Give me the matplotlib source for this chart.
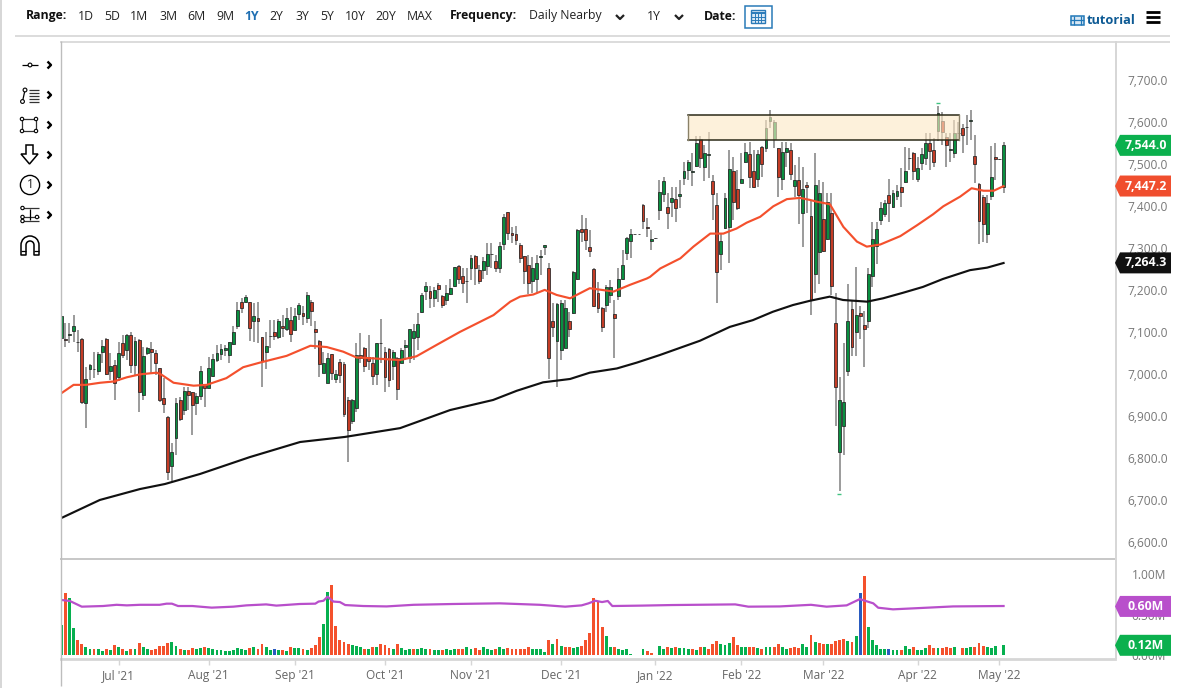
import matplotlib
matplotlib.use("Agg")
import matplotlib.pyplot as plt
import numpy as np
from matplotlib.patches import Arc, Circle, Polygon, Rectangle

plt.rcParams['font.family'] = ['Open Sans', 'DejaVu Sans']

# daily candles
opens = [7085,7083,7092,7101,7076,7083,6930,7011,7011,7006,
         7052,7083,7006,7022,6992,7073,7056,7093,7022,7081,
         6950,7049,7059,7049,7013,6942,6898,6781,6848,6938,
         6913,6960,6956,6930,6948,6975,6966,6994,7033,7048,
         7056,7044,7071,7113,7170,7172,7172,7127,7133,7087,
         7052,7090,7100,7087,7114,7106,7129,7105,7142,7146,
         7133,7172,7107,7079,7003,6979,7047,6987,7028,7023,
         6938,6887,6918,7045,
         7061,7041,7027,7001,7073,7053,7059,7019,7037,7027,
         7063,7039,7086,7088,7148,7198,7198,7180,7212,7186,
         7177,7190,7209,7258,7233,7221,7251,7281,7247,7247,
         7257,7285,7269,7251,7309,7385,7335,7332,7308,7281,
         7259,7221,7225,7278,7302,7253,7127,7078,7057,7061,
         7127,7146,7225,7345,7345,7301,7250,7192,7158,7165,
         7189,7142,7186,7227,7287,7317,7333,7333,7402,7349,7316,7323,
         7390,7428,7398,7410,7417,7423,7467,7485,7481,7496,
         7558,7492,7522,7458,7403,7285,7348,7349,7482,7441,
         7454,7505,7523,7484,7463,7541,7537,7602,7558,7537,
         7465,7529,7533,7447,7461,7382,7450,7375,7239,7291,
         7368,7320,7384,7121,6813,6875,7006,7154,7099,7145,
         7117,7125,7233,7305,7366,7380,7427,7398,7424,7446,
         7456,7513,7527,7464,7501,7515,7550,7534,7577,7601,
         7563,7534,7525,7573,7585,7587,7603,7519,7451,7421,
         7332,7424,7517,7511,7444]
highs = [7153,7121,7121,7141,7105,7085,7016,7024,7053,7053,
         7081,7085,7049,7033,7077,7093,7095,7099,7089,7083,
         7065,7065,7077,7056,7014,6990,6900,6835,6942,6946,
         6968,6970,6958,6954,7019,6976,7040,7048,7069,7072,
         7069,7077,7113,7170,7180,7188,7172,7168,7170,7089,
         7099,7129,7129,7130,7141,7157,7160,7157,7168,7162,
         7194,7176,7127,7081,7053,7049,7048,7010,7035,7029,
         6945,6940,7073,7097,
         7065,7092,7041,7073,7130,7065,7061,7057,7041,7061,
         7080,7108,7120,7144,7192,7219,7209,7208,7216,7188,
         7212,7225,7255,7259,7251,7251,7283,7283,7259,7279,
         7311,7311,7283,7315,7381,7386,7349,7352,7311,7281,
         7283,7279,7283,7295,7307,7265,7168,7168,7177,7176,
         7148,7245,7344,7378,7370,7343,7251,7219,7160,7212,
         7223,7177,7251,7295,7325,7344,7334,7334,7404,7370,7343,7324,
         7461,7468,7430,7446,7444,7461,7505,7509,7525,7566,
         7566,7545,7575,7473,7430,7334,7430,7534,7517,7485,
         7525,7550,7553,7534,7533,7542,7604,7628,7604,7538,
         7553,7553,7550,7497,7517,7493,7457,7414,7527,7461,
         7457,7430,7430,7192,6992,7073,7214,7175,7255,7162,
         7149,7251,7362,7362,7410,7414,7465,7438,7450,7489,
         7539,7537,7529,7517,7537,7573,7573,7561,7638,7624,
         7573,7573,7604,7600,7596,7616,7628,7569,7454,7426,
         7426,7542,7549,7512,7553]
lows = [7077,7063,7073,7077,7051,6929,6871,6986,6990,6998,
        7025,6998,6986,6938,6982,7037,7033,7002,6998,6910,
        6937,7045,7002,6998,6934,6906,6748,6745,6807,6887,
        6902,6914,6855,6902,6938,6922,6966,6992,7029,7033,
        7043,7025,7069,7106,7146,7168,7079,7077,7073,6970,
        7011,7061,7081,7083,7089,7101,7077,7105,7129,7117,
        7121,7113,7059,6992,7002,6978,6986,6978,6978,6898,
        6790,6881,6910,7025,
        7005,7009,6973,6973,7025,6957,6969,6985,6938,7025,
        7033,7027,7033,7057,7144,7176,7156,7160,7172,7156,
        7164,7188,7206,7215,7193,7168,7223,7212,7215,7225,
        7235,7251,7243,7241,7296,7319,7311,7307,7263,7215,
        7190,7192,7192,7235,7283,6989,7088,6968,7033,7061,
        7088,7142,7223,7315,7296,7279,7160,7144,7100,7148,
        7168,7037,7176,7223,7271,7275,7332,7332,7344,7327,7295,7322,
        7366,7410,7344,7374,7362,7396,7450,7461,7447,7493,
        7489,7459,7467,7366,7168,7247,7346,7263,7366,7390,
        7454,7501,7442,7442,7446,7469,7529,7585,7537,7422,
        7438,7493,7461,7422,7358,7303,7382,7140,7192,7215,
        7291,7318,7188,6875,6722,6806,6995,7043,7043,7083,
        7016,7109,7206,7261,7354,7374,7362,7396,7414,7398,
        7454,7485,7461,7457,7485,7497,7485,7493,7555,7545,
        7493,7505,7513,7557,7527,7545,7557,7454,7309,7315,
        7312,7414,7461,7510,7431]
closes = [7137,7080,7094,7113,7075,6932,6989,7022,7011,7048,
          7067,7000,7018,6979,7049,7045,7093,7022,7079,6958,
          7043,7061,7051,7027,6937,6929,6767,6813,6930,6892,
          6960,6950,6925,6948,7006,6966,7014,7035,7049,7059,
          7062,7076,7099,7151,7158,7183,7110,7137,7127,7030,
          7067,7090,7091,7125,7109,7133,7095,7137,7164,7137,
          7188,7149,7099,7023,7025,7037,7002,7000,6998,6905,
          6867,6937,7045,7037,
          7019,7031,6996,7073,7074,6993,6985,7051,6963,7057,
          7070,7106,7103,7118,7189,7209,7180,7200,7201,7165,
          7192,7204,7254,7227,7217,7221,7275,7253,7222,7269,
          7285,7286,7253,7304,7373,7335,7330,7319,7277,7246,
          7217,7253,7263,7281,7306,7038,7112,7166,7168,7158,
          7108,7242,7343,7337,7319,7293,7162,7158,7111,7206,
          7208,7132,7225,7260,7323,7333,7333,7333,7365,7348,7321,7323,
          7434,7459,7384,7418,7394,7428,7483,7505,7481,7549,
          7513,7525,7522,7428,7243,7317,7418,7487,7410,7394,
          7465,7529,7468,7446,7523,7499,7585,7612,7599,7469,
          7529,7538,7475,7461,7427,7439,7446,7176,7450,7431,
          7293,7410,7209,6970,6938,6932,7127,7065,7141,7139,
          7106,7239,7320,7346,7394,7407,7406,7430,7436,7432,
          7484,7513,7484,7491,7523,7549,7530,7504,7620,7575,
          7545,7534,7573,7573,7569,7587,7603,7500,7365,7357,
          7406,7469,7511,7511,7544]

# red moving average
ma_red_day = [0,3,6,9.5,12.8,16,19.2,23.3,24.5,27.4,32.3,35.5,40.3,44.4,48.5,55,60.8,64.8,68.8,72.1,
              72.9,81,82.7,86.7,91.6,97.3,101.4,105.5,109.6,112,115.2,118,120.9,124.2,129,134.8,138.8,142.9,
              143.7,146.2,151.1,154.3,158.4,161.6,164.8,167.3,170.6,173.8,177.1,180.3,182.8,184.4,187.6,190.9,
              194.2,196.6,199.9,204.8,208.9,212.8,215.3,219.4,222.2,225.1,227.6,230]
ma_red = [6954,6974,6974,6979,6982,6992,6999,7003,6998,6979,6972,6974,6990,7016,7027,7043,7067,7064,7053,7039,
          7039,7034,7033,7042,7069,7100,7120,7140,7172,7184,7189,7200,7188,7180,7204,7196,7212,7227,
          7231,7251,7275,7303,7334,7334,7346,7360,7374,7399,7416,7419,7414,7410,7404,7350,
          7315,7303,7308,7328,7354,7380,7399,7422,7442,7436,7436,7447]

# black moving average
ma_black_day = [0,9.4,19.2,25.3,33.9,46,58.3,69.2,82.7,94.9,105.4,111.2,117.6,124.2,129,135.6,140.5,146.1,
                155.9,163.2,168.8,173.7,178.6,182.7,187.6,190.8,196.7,200.6,205.4,210.3,215.2,221.8,226,230]
ma_black = [6657,6700,6726,6738,6762,6802,6838,6850,6871,6914,6938,6960,6980,6988,7003,7013,7027,7045,
            7079,7112,7128,7148,7164,7174,7184,7176,7172,7180,7193,7207,7226,7247,7253,7264]

# volume in millions, g/r/b bar colours
volumes = [.37,.76,.70,.33,.19,.14,.095,.07,.08,.08,.055,.07,.06,.12,.10,.07,.045,.08,.08,.145,
           .095,.07,.06,.075,.11,.115,.15,.16,.11,.08,.065,.065,.09,.07,.085,.10,.085,.08,.06,.065,
           .055,.055,.06,.085,.075,.06,.09,.095,.07,.13,.095,.065,.07,.06,.06,.055,.105,.09,.085,
           .07,.06,.085,.12,.22,.38,.78,.86,.36,.18,.165,.14,.12,.11,.10,.08,.08,.105,.10,.13,
           .125,.09,.08,.13,.085,.065,.07,.08,.075,.085,.08,.08,.065,.06,.06,.08,.06,.08,.075,.08,
           .095,.08,.085,.06,.095,.08,.06,.075,.095,.08,.085,.07,.08,.08,.08,.10,.075,.08,
           .08,.04,.18,.13,.20,.115,.105,.095,.085,.10,.11,.185,.275,.70,.65,.35,.235,.105,.095,.07,
           .06,.07,.01,0,0,.075,.05,.02,0,.11,.08,.105,.085,.095,.085,.085,.08,.08,.06,.10,
           .105,.08,.14,.17,.135,.12,.15,.22,.12,.105,.10,.10,.105,.085,.08,.095,.095,.10,.14,
           .10,.075,.09,.095,.085,.13,.10,.245,.16,.15,.135,.14,.13,.17,.185,.20,.17,.155,.23,.77,
           .975,.34,.18,.12,.08,.07,.08,.065,.06,.065,.11,.08,.105,.065,.06,.085,.12,.085,.085,.09,
           .095,.09,.095,0,.09,.09,.095,.105,.15,.11,.105,.085,.115,0,.12]
vol_codes = ("grggr rggrg grgrg rgrgr ggrrr rrggr grrgg rgggg ggggg grgrr ggbgr grgg"
             "rgrrr ggrrr rrggg rgrgr rrgrg ggrgg grggr gggrr ggrrg ggrgg rrrrr rgg"
             "ggrgr grrgg rrrrr rggrg ggggg grrgg grgrg ggrgr grrrg ggrrg grrgr ggrr"
             "ggrrr ggrgr rgrrr rgrgb rgggg gbggr ggrgg grrgr rrggr ggrrr ggggg").replace(" ", "")

# purple volume average
vol_avg_day = [0,2.1,5,10.2,13.5,16,19.2,24,25.7,27,28.5,32,36.7,42,45.2,50,52.5,58.2,
               62,62.8,64,65,66.4,68,69.3,73.7,79.4,86,95.7,107,116.8,
               123,127,128.7,130.3,132,133.4,134.5,141.7,149,164.5,167.7,175.4,
               183,186.8,191.7,194.9,198.2,199.4,203,211.2,217.7,230]
vol_avg = [.68,.667,.597,.605,.62,.613,.62,.62,.634,.634,.605,.605,.585,.597,.613,.625,.61,.63,
           .634,.66,.67,.72,.66,.654,.617,.605,.60,.62,.63,.638,.62,
           .597,.613,.638,.67,.654,.667,.605,.61,.617,.625,.597,.60,
           .62,.597,.613,.69,.638,.584,.564,.584,.60,.605]

price_ticks = [6600,6700,6800,6900,7000,7100,7200,7300,7400,7500,7600,7700]
vol_ticks = [0,0.5,1.0]
vol_tick_labels = ["0.00M","0.50M","1.00M"]
month_days = [14,36,57,79,100,122,145,166,186,209,229]
month_labels = ["Jul '21","Aug '21","Sep '21","Oct '21","Nov '21","Dec '21","Jan '22","Feb '22","Mar '22","Apr '22","May '22"]
# resistance box: first day, last day, bottom, top
zone = [153,219.1,7557,7617]
# little green flags at the extremes
flag_days = [189.8,214]
flag_prices = [6714,7645]
last_close = 7544.0
last_red = 7447.2
last_black = 7264.3
last_vol_avg = 0.60
last_vol = 0.12

W, H = 1182, 688
GREEN = "#0a8f40"
RED = "#c43c26"
GREY = "#d6d6d6"
TEXT = "#777777"

opens, highs, lows, closes = map(np.array, (opens, highs, lows, closes))
days = np.arange(len(closes))

fig = plt.figure(figsize=(W/100, H/100), dpi=100)

def make_axes(top, bottom):
    return fig.add_axes([61/W, 1-bottom/H, (1115-61)/W, (bottom-top)/H])

# price pane
ax = make_axes(42, 558)
ax.set_xlim(-0.07, 257.2)
ax.set_ylim(6561.9, 7790)
up = closes >= opens
ax.vlines(days, lows, highs, color="#858585", lw=1.15, zorder=2)
body_low = np.minimum(opens, closes)
body_h = np.maximum(np.abs(closes-opens), 0.8)
ax.bar(days[up], body_h[up], bottom=body_low[up], width=0.7, color=GREEN, edgecolor="#222222", lw=0.55, zorder=3)
ax.bar(days[~up], body_h[~up], bottom=body_low[~up], width=0.7, color=RED, edgecolor="#222222", lw=0.55, zorder=3)
ax.plot(ma_red_day, ma_red, color="#f4502d", lw=1.55, zorder=4, solid_joinstyle="round")
ax.plot(ma_black_day, ma_black, color="#111111", lw=1.55, zorder=4, solid_joinstyle="round")
ax.plot(flag_days, flag_prices, ls="none", marker="_", ms=3.5, mew=1, color="#3fc380", zorder=4)
ax.add_patch(Rectangle((zone[0], zone[2]), zone[1]-zone[0], zone[3]-zone[2], facecolor="#fde9c6", alpha=0.62, zorder=5))
# box outline: dark top and bottom, softer sides
ax.plot([zone[0], zone[1]], [zone[3], zone[3]], color="#2b2a18", lw=1.1, zorder=6)
ax.plot([zone[0], zone[1]], [zone[2], zone[2]], color="#2b2a18", lw=1.1, zorder=6)
ax.plot([zone[0], zone[0]], [zone[2], zone[3]], color="#8a8168", lw=1.0, zorder=6)
ax.plot([zone[1], zone[1]], [zone[2], zone[3]], color="#8a8168", lw=1.0, zorder=6)
ax.set_yticks(price_ticks)
ax.set_yticklabels([f"{p:,.1f}" for p in price_ticks])
ax.yaxis.tick_right()
ax.tick_params(axis="y", length=0, pad=9, labelsize=8.6, labelcolor=TEXT)
ax.set_xticks([])
for s in ax.spines.values():
    s.set_visible(False)

# volume pane
vax = make_axes(560, 659)
vax.set_xlim(-0.07, 257.2)
vax.set_ylim(-0.049, 1.173)
code_colors = {"g": "#06b04f", "r": "#f4512c", "b": "#2a5bc0"}
vax.bar(days, volumes, width=0.7, color=[code_colors[c] for c in vol_codes], lw=0, zorder=2)
vax.plot(vol_avg_day, vol_avg, color="#b84fcb", lw=1.6, zorder=3)
vax.set_yticks(vol_ticks)
vax.set_yticklabels(vol_tick_labels)
vax.yaxis.tick_right()
vax.tick_params(axis="y", length=0, pad=12, labelsize=8.6, labelcolor=TEXT)
vax.set_xticks(month_days)
vax.set_xticklabels(month_labels)
vax.tick_params(axis="x", length=4, width=1, color=GREY, pad=3.5, labelsize=8.6, labelcolor="#666666")
for name, s in vax.spines.items():
    s.set_visible(name == "bottom")
vax.spines["bottom"].set_color(GREY)
vax.spines["bottom"].set_linewidth(2)

# overlay in pixel coordinates for the toolbar, frame and value tags
ui = fig.add_axes([0, 0, 1, 1], zorder=10)
ui.set_xlim(0, W)
ui.set_ylim(H, 0)
ui.axis("off")

def line(xs, ys, color="black", lw=1.0):
    ui.plot(xs, ys, color=color, lw=lw, solid_capstyle="butt")

line([1, 1], [0, H], "#cfcfcf", 1.2)
line([15, 1170], [35.5, 35.5], GREY, 1.2)
line([60, 1170], [41.5, 41.5], GREY, 1.2)
line([60.5, 60.5], [41, 686], "#bdbdbd", 1)
line([1115.5, 1115.5], [41, 659], GREY, 1.4)
line([60, 1115], [558.5, 558.5], "#bdbdbd", 1.2)

def label(x, s, **kw):
    kw.setdefault("color", "#222222")
    ui.text(x, 16, s, fontsize=8.8, va="center", **kw)

label(26, "Range:", fontweight="bold", color="#111111")
range_names = ["1D","5D","1M","3M","6M","9M","1Y","2Y","3Y","5Y","10Y","20Y","MAX"]
range_x = [86,112,139,168,196,225,252,276,302,327,355,386,420]
for x, s in zip(range_x, range_names):
    if s == "1Y":
        label(x, s, ha="center", color="#1f6fb2", fontweight="bold")
    else:
        label(x, s, ha="center")
label(450, "Frequency:", fontweight="bold", color="#111111")
label(529, "Daily Nearby")
label(647, "1Y")
label(704, "Date:", fontweight="bold", color="#111111")
for cx in (620, 679):
    line([cx-4, cx, cx+4], [15, 19, 15], "#222222", 1.6)

# calendar button
ui.add_patch(Rectangle((744.5, 5.5), 27, 22, fill=False, edgecolor="#2a7ab8", lw=1.1))
ui.add_patch(Rectangle((751, 10), 14, 13, facecolor="#d9e8f4", edgecolor="#2a7ab8", lw=1))
line([751, 765], [13, 13], "#2a7ab8", 1.4)
for cx in (755, 758, 761):
    line([cx, cx], [13, 23], "#2a7ab8", 0.7)
for cy in (16.5, 19.5):
    line([751, 765], [cy, cy], "#2a7ab8", 0.7)

# tutorial link and menu
ui.add_patch(Rectangle((1070.5, 15.5), 13, 9.5, facecolor="#d9e8f4", edgecolor="#2178b8", lw=1.1))
for cx in (1073.5, 1080.5):
    line([cx, cx], [15.5, 25], "#2178b8", 0.9)
line([1070, 1084], [20.2, 20.2], "#2178b8", 0.9)
ui.text(1087, 20, "tutorial", fontsize=9.2, fontweight="bold", color="#0d5a94", va="center")
for cy in (11.5, 16.5, 21.5):
    line([1146, 1160], [cy, cy], "black", 2)

# drawing tools on the left
for cy in (65, 95, 125, 155, 185, 215):
    line([47.5, 51, 47.5], [cy-3.5, cy, cy+3.5], "black", 1.7)

def dot(x, y, r=1.9):
    ui.add_patch(Circle((x, y), r, facecolor="white", edgecolor="black", lw=0.8, zorder=4))

line([22, 38], [65, 65], "black", 0.9)
dot(30, 65)
line([22.5, 25], [101.5, 90], "black", 0.9)
dot(22.5, 101.5)
dot(25, 90)
for cy in (90, 93, 96, 99, 102):
    line([29, 39], [cy, cy], "#333333", 0.9)
ui.add_patch(Rectangle((22, 119), 14, 12, fill=False, edgecolor="#333333", lw=0.9))
for x, y in ((22, 119), (36, 119), (22, 131), (36, 131)):
    dot(x, y, 1.7)
ui.add_patch(Polygon([(26, 145), (33, 145), (33, 154), (38, 154), (29.5, 164), (21, 154), (26, 154)],
                     closed=True, fill=False, edgecolor="black", lw=1.1))
ui.add_patch(Circle((30, 185), 9.6, fill=False, edgecolor="black", lw=1.0))
ui.text(30, 185, "1", fontsize=8.6, ha="center", va="center", color="#222222")
for cy in (208, 217, 221):
    line([21, 39], [cy, cy], "#333333", 0.9)
line([29.5, 29.5], [209, 220], "black", 0.9)
for x, y in ((22.5, 208), (37, 217), (22.5, 217), (22.5, 221)):
    dot(x, y, 1.7)
ui.add_patch(Arc((30, 245), 18, 18, theta1=180, theta2=360, edgecolor="black", lw=1.1))
ui.add_patch(Arc((30, 245), 8, 8, theta1=180, theta2=360, edgecolor="black", lw=1.1))
line([21, 21, 26, 26], [245, 255, 255, 245], "black", 1.1)
line([34, 34, 39, 39], [245, 255, 255, 245], "black", 1.1)
line([21, 26], [251, 251], "black", 0.9)
line([34, 39], [251, 251], "black", 0.9)

# value tags
def tag(axis, value, text, color):
    y = H - axis.transData.transform((0, value))[1]
    ui.add_patch(Polygon([(1115, y), (1120, y-10.5), (1171, y-10.5), (1171, y+10.5), (1120, y+10.5)],
                         closed=True, facecolor=color, edgecolor="none", zorder=5))
    ui.text(1145.5, y, text, color="white", fontsize=8.8, fontweight="bold", ha="center", va="center", zorder=6)

tag(ax, last_close, f"{last_close:,.1f}", "#0bb04e")
tag(ax, last_red, f"{last_red:,.1f}", "#f04e2e")
tag(ax, last_black, f"{last_black:,.1f}", "#111111")
tag(vax, last_vol_avg, f"{last_vol_avg:.2f}M", "#b84fcb")
tag(vax, last_vol, f"{last_vol:.2f}M", "#0bb04e")

fig.savefig("out.png", dpi=100)
